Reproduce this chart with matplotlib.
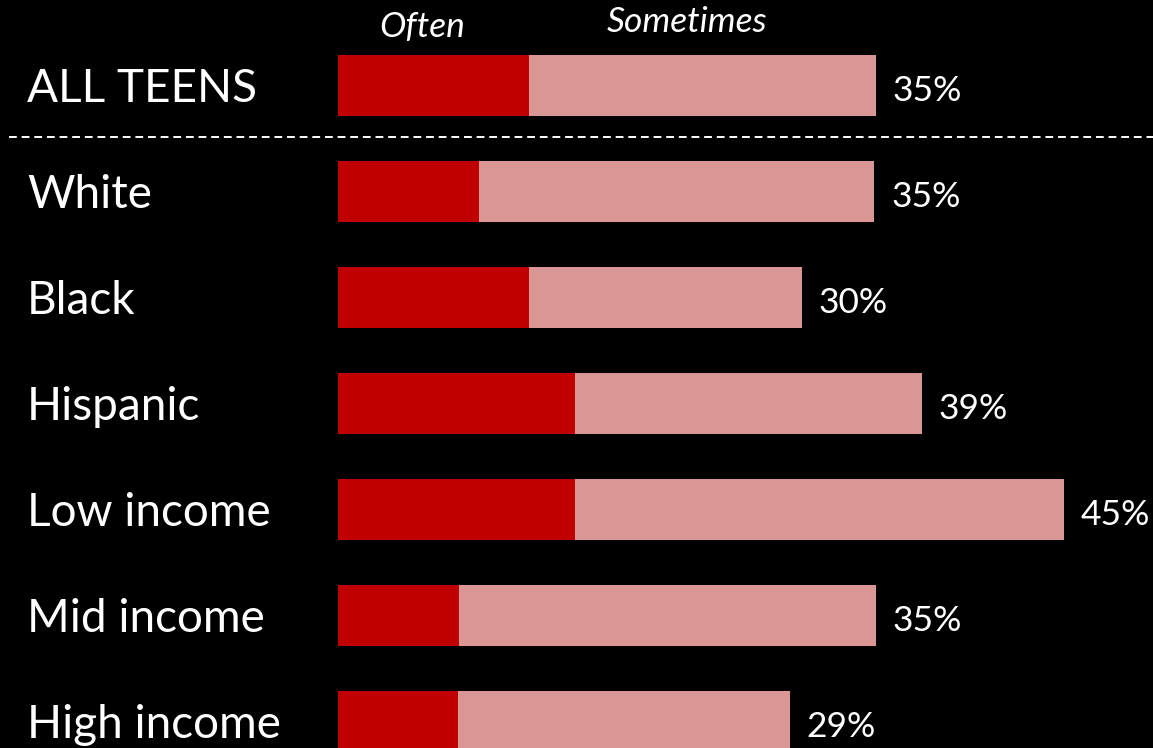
import matplotlib
matplotlib.use("Agg")
import matplotlib.pyplot as plt

plt.rcParams['font.family'] = ['Lato', 'DejaVu Sans']

categories = ["ALL TEENS", "White", "Black", "Hispanic", "Low income", "Mid income", "High income"]
often = [12.4, 9.2, 12.4, 15.4, 15.4, 7.9, 7.8]
sometimes = [22.6, 25.7, 17.8, 22.6, 31.8, 27.1, 21.6]
pct_labels = ["35%", "35%", "30%", "39%", "45%", "35%", "29%"]
series_names = ["Often", "Sometimes"]

RED = "#C00000"
PINK = "#DA9694"

W, H = 1153, 748
fig = plt.figure(figsize=(W / 100, H / 100), dpi=100, facecolor="black")
ax = fig.add_axes([0, 0, 1, 1])
ax.set_facecolor("black")

px_per_unit = 538 / 35.0
x0_px = 338
row_px = 106
c0_px = 85.5

ax.set_xlim(-x0_px / px_per_unit, (W - x0_px) / px_per_unit)
ax.set_ylim((H - c0_px) / row_px, -c0_px / row_px)
ax.axis("off")

ys = list(range(len(categories)))
bh = 61 / row_px
ax.barh(ys, often, height=bh, color=RED, linewidth=0)
ax.barh(ys, sometimes, left=often, height=bh, color=PINK, linewidth=0)

label_x = -311 / px_per_unit
for y, cat, o, s, lab in zip(ys, categories, often, sometimes, pct_labels):
    ax.annotate(cat, xy=(label_x, y), xytext=(0, -12.0), textcoords="offset points",
                color="white", fontsize=33, ha="left", va="baseline")
    ax.annotate(lab, xy=(o + s, y), xytext=(12, -11), textcoords="offset points",
                color="white", fontsize=25.5, ha="left", va="baseline")

# dashed separator between overall and subgroups
ax.plot([-329 / px_per_unit, (W - x0_px) / px_per_unit], [0.485, 0.485],
        color="white", linestyle=(0, (4, 2.5)), linewidth=1.4)

# series headers
ax.text(5.5, -0.455, series_names[0], color="white", fontsize=25.5, style="italic",
        ha="center", va="baseline")
ax.text(22.7, -0.505, series_names[1], color="white", fontsize=25.5, style="italic",
        ha="center", va="baseline")

fig.savefig("out.png", dpi=100, facecolor="black")
